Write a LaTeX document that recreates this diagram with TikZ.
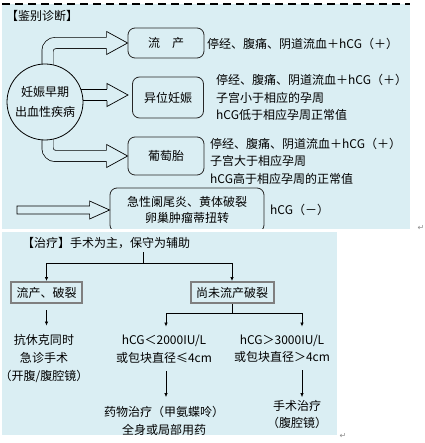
\documentclass[tikz,border=0pt]{standalone}
\usepackage{fontspec}
\setmainfont{Noto Sans CJK SC}
\newfontfamily\simbolos{DejaVu Sans}
\usetikzlibrary{arrows.meta}
\definecolor{fondo}{HTML}{DAEEF3}
\definecolor{borde}{HTML}{7F7F7F}

\begin{document}
\begin{tikzpicture}[x=1pt,y=-1pt,
   texto/.style={font=\fontsize{12}{17.5}\selectfont,inner sep=0pt},
   caja/.style={draw=black!85,line width=0.8pt,rounded corners=7pt,fill=fondo,
     font=\fontsize{12}{16}\selectfont,inner sep=0pt},
   marco/.style={draw=borde,line width=2pt,fill=fondo,
     font=\fontsize{12}{14}\selectfont,inner sep=0pt},
   circulo/.style={circle,draw,line width=0.8pt,fill=fondo,minimum size=76pt,
     inner sep=0pt,align=center,font=\fontsize{12}{20}\selectfont},
   tubo/.style={double=fondo,double distance=10.5pt,line width=0.7pt,rounded corners=8pt},
   punta/.style={fill=fondo,draw=black,line width=0.7pt,line join=miter},
   flecha/.style={-{Latex[length=4pt,width=3.5pt]},line width=0.7pt},
   marca/.style={font=\simbolos\fontsize{8}{8}\selectfont,text=black!45}]

  \useasboundingbox (0,0) rectangle (424,443);

  % fondos
  \fill[fondo] (2,4) rectangle (410,229);
  \draw[line width=2pt,dash pattern=on 8pt off 5pt] (2,4) -- (410,4);

  % --- diagnostico diferencial ---
  \node[texto,anchor=west] (titulo) at (6,16) {【鉴别诊断】};
  \coordinate (centro) at (45,102);
  \coordinate (p2) at (128,95);
  \coordinate (a4) at (17,210);

  \node[caja,minimum width=76pt,minimum height=30pt] (aborto) at (166,43) {流　产};
  \node[caja,minimum width=71pt,minimum height=41pt] (ectopico) at (168,97.5) {异位妊娠};
  \node[caja,minimum width=76pt,minimum height=38pt] (mola) at (166,156) {葡萄胎};
  \node[caja,minimum width=154pt,minimum height=44pt,align=center] (otros) at (187,210)
    {急性阑尾炎、黄体破裂\\卵巢肿瘤蒂扭转};

  % flechas huecas
  \draw[tubo] ([xshift=2.5pt]centro) |- ([xshift=-20pt]aborto.west);
  \filldraw[punta] ([shift={(-21,-5.9)}]aborto.west) -- ++(0,-5.6) -- (aborto.west)
    -- ++(-21,11.5) -- ++(0,-5.6);
  \draw[tubo] (centro |- p2) -- ([xshift=-20pt]p2);
  \filldraw[punta] ([shift={(-21,-5.9)}]p2) -- ++(0,-5.6) -- (p2)
    -- ++(-21,11.5) -- ++(0,-5.6);
  \draw[tubo] ([xshift=2.5pt]centro) |- ([xshift=-20pt]mola.west);
  \filldraw[punta] ([shift={(-21,-5.9)}]mola.west) -- ++(0,-5.6) -- (mola.west)
    -- ++(-21,11.5) -- ++(0,-5.6);
  \filldraw[punta] ([shift={(0,-3.9)}]a4) -- ([shift={(-20,-3.9)}]otros.west) -- ++(0,-5.1)
    -- (otros.west) -- ++(-20,9) -- ++(0,-5.1) -- ([shift={(0,3.9)}]a4) -- cycle;

  \node[circulo] (origen) at (centro) {妊娠早期\\出血性疾病};

  \node[texto,anchor=west] (sintomas1) at (207,44) {停经、腹痛、阴道流血＋hCG（＋）};
  \node[texto,anchor=west,align=left] (sintomas2) at (216,97.5)
    {停经、腹痛、阴道流血＋hCG（＋）\\子宫小于相应的孕周\\hCG低于相应孕周正常值};
  \node[texto,anchor=west,align=left] (sintomas3) at (210,161)
    {停经、腹痛、阴道流血＋hCG（＋）\\子宫大于相应孕周\\hCG高于相应孕周的正常值};
  \node[texto,anchor=west] (negativo) at (270,210) {hCG（－）};

  % separacion
  \fill[white] (0,229) rectangle (424,232);
  \fill[fondo] (2,232) rectangle (337,435);

  % --- tratamiento ---
  \node[texto,anchor=west] (titulo2) at (22,243) {【治疗】手术为主，保守为辅助};
  \coordinate (raiz) at (143,252);
  \coordinate (cruce) at (143,263);
  \node[marco,minimum width=71pt,minimum height=21pt] (roto) at (46.5,292.5) {流产、破裂};
  \node[marco,minimum width=83pt,minimum height=21pt] (intacto) at (232,292.5) {尚未流产破裂};
  \draw[flecha] (raiz) -- (cruce) -| (roto.north);
  \draw[flecha] (cruce) -| (intacto.north);

  \node[texto,align=center,font=\fontsize{12}{18}\selectfont] (choque) at (44,358)
    {抗休克同时\\急诊手术\\（开腹/腹腔镜）};
  \draw[flecha,shorten <=6pt,shorten >=8pt] (roto.south) -- (roto.south |- choque.north);

  \node[texto,align=center,font=\fontsize{12}{18}\selectfont] (bajo) at (164,349)
    {hCG＜2000IU/L\\或包块直径≤4cm};
  \node[texto,align=center,font=\fontsize{12}{17}\selectfont] (alto) at (282,348.5)
    {hCG＞3000IU/L\\或包块直径＞4cm};
  \draw[flecha,shorten >=8pt] (intacto.south) -- ++(0,9) -| ([xshift=2pt]bajo.north);
  \draw[flecha,shorten >=8pt] (intacto.south) -- ++(0,9) -| ([xshift=20pt]alto.north);

  \node[texto,align=center,font=\fontsize{12}{18}\selectfont] (farmaco) at (164,421)
    {药物治疗（甲氨蝶呤）\\全身或局部用药};
  \node[texto,align=center,font=\fontsize{12}{17}\selectfont] (cirugia) at (297,414.5)
    {手术治疗\\（腹腔镜）};
  \draw[flecha,shorten <=8pt,shorten >=9pt] ([xshift=2pt]bajo.south)
    -- ([xshift=2pt]bajo.south |- farmaco.north);
  \draw[flecha,shorten <=8pt,shorten >=3pt] ([xshift=20pt]alto.south)
    -- ([xshift=20pt]alto.south |- cirugia.north);

  \node[marca] (retorno1) at (421,228) {↵};
  \node[marca] (retorno2) at (343,436) {↵};
\end{tikzpicture}
\end{document}
